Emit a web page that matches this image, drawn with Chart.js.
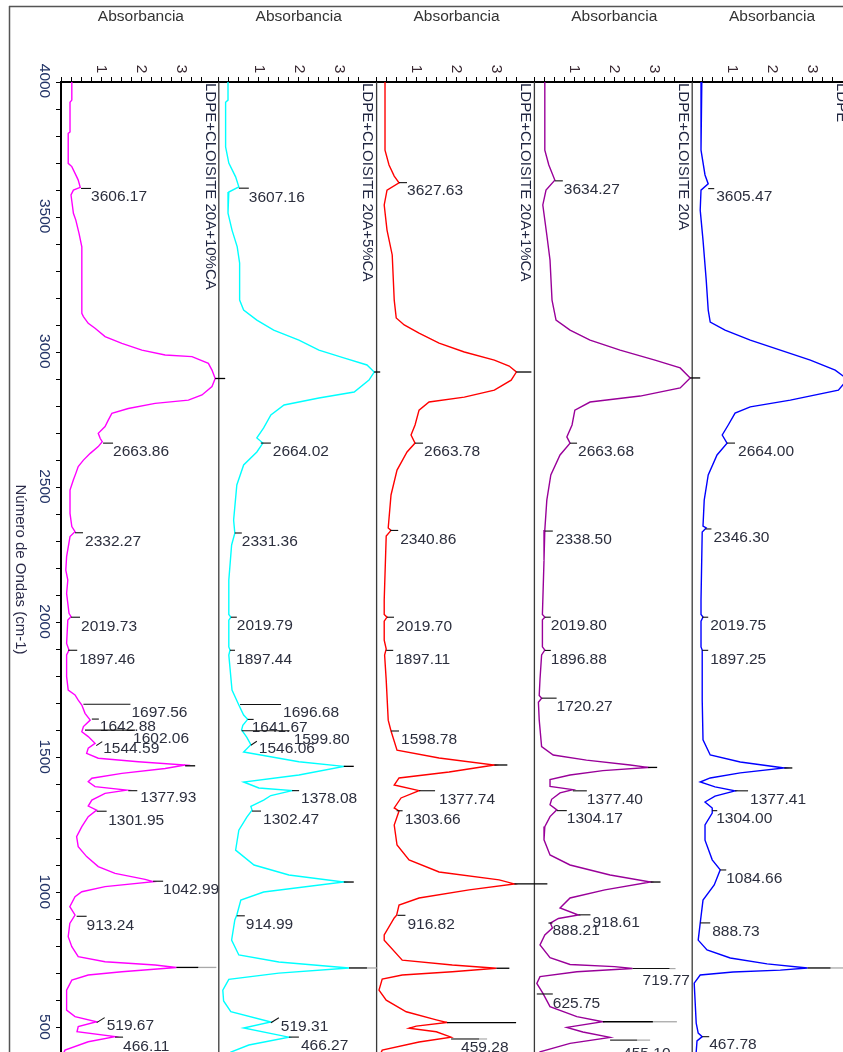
<!DOCTYPE html>
<html><head><meta charset="utf-8">
<script src="https://cdn.jsdelivr.net/npm/chart.js@4.4.0/dist/chart.umd.min.js"></script>
<style>html,body{margin:0;padding:0;overflow:hidden;background:#fff}#wrap{position:absolute;left:0;top:0;width:852px;height:1055px}</style>
</head><body><div id="wrap"><canvas id="c" width="852" height="1055"></canvas></div>
<script>
const captions = ['LDPE+CLOISITE 20A+10%CA','LDPE+CLOISITE 20A+5%CA','LDPE+CLOISITE 20A+1%CA','LDPE+CLOISITE 20A','LDPE'];
const seriesColors = ['#ff00ff','#00ffff','#ff0000','#990099','#0000ff'];
const yTitle = 'Número de Ondas (cm-1)';
const xTitle = 'Absorbancia';

const wn1 = [4000,3933,3925,3815,3810,3699,3687,3650,3637,3610,3600,3582,3514,3489,3440,3390,3144,3132,3107,3089,3058,3033,3008,2990,2984,2959,2934,2903,2873,2842,2823,2811,2792,2774,2749,2725,2700,2681,2669,2651,2626,2601,2577,2552,2528,2490,2404,2355,2336,2318,2244,2194,2157,2108,2034,2022,2009,1923,1898,1880,1800,1750,1732,1713,1695,1664,1639,1615,1596,1578,1553,1535,1516,1498,1485,1473,1460,1442,1424,1411,1393,1380,1368,1343,1321,1306,1282,1245,1208,1171,1134,1097,1072,1050,1041,1023,1004,986,949,918,887,838,801,764,745,733,724,708,696,677,640,566,542,523,505,486,468,449,418,405];
const abs1 = [0.27,0.27,0.225,0.225,0.18,0.18,0.27,0.39,0.43,0.48,0.31,0.25,0.31,0.37,0.45,0.52,0.52,0.56,0.68,0.85,1.10,1.52,2.02,2.60,3.27,3.68,3.77,3.85,3.77,3.52,3.18,2.35,1.68,1.27,1.18,1.10,0.93,0.98,1.03,0.93,0.73,0.56,0.43,0.37,0.31,0.225,0.225,0.27,0.35,0.225,0.14,0.12,0.17,0.14,0.20,0.25,0.17,0.14,0.20,0.14,0.14,0.18,0.35,0.43,0.52,0.60,0.73,0.56,0.52,0.68,0.85,0.68,0.64,0.93,1.93,3.10,2.60,1.52,0.77,0.68,0.85,1.64,1.10,0.77,0.68,0.89,0.68,0.52,0.39,0.43,0.64,0.93,1.35,2.10,2.31,1.10,0.52,0.35,0.22,0.35,0.22,0.18,0.27,0.43,1.10,2.35,2.88,1.52,0.68,0.27,0.14,0.14,0.35,0.89,0.43,0.40,1.35,0.68,0.10,0.06];

const wn2 = [4000,3933,3925,3760,3700,3649,3612,3593,3515,3452,3390,3330,3193,3156,3119,3082,3045,3008,2979,2953,2927,2897,2853,2831,2805,2768,2720,2683,2664,2631,2583,2509,2379,2331,2287,2157,2030,2020,2009,1910,1898,1880,1750,1695,1658,1642,1620,1603,1575,1548,1521,1485,1468,1436,1410,1388,1378,1360,1343,1320,1306,1280,1232,1158,1103,1066,1040,1003,973,918,900,825,770,744,722,703,680,640,600,560,522,500,466,437,411,405];
const abs2 = [0.23,0.23,0.17,0.17,0.25,0.42,0.50,0.25,0.23,0.33,0.46,0.52,0.52,0.62,0.95,1.37,2.00,2.50,3.12,3.70,3.88,3.75,3.38,2.50,1.63,1.30,1.12,0.95,1.10,0.95,0.62,0.45,0.37,0.40,0.32,0.25,0.25,0.30,0.25,0.25,0.28,0.25,0.33,0.50,0.62,0.72,0.60,0.57,0.70,0.80,0.62,2.00,3.12,2.00,0.62,1.00,1.83,1.30,1.12,0.80,0.83,0.70,0.50,0.42,0.88,1.75,3.12,1.12,0.55,0.45,0.40,0.32,0.50,1.50,3.25,1.50,0.25,0.10,0.12,0.30,1.30,0.62,1.75,0.75,0.30,0.25];

const wn3 = [4000,3748,3693,3652,3627,3600,3545,3452,3360,3193,3127,3101,3071,3034,3001,2971,2949,2927,2897,2860,2834,2816,2786,2731,2694,2664,2631,2564,2472,2350,2341,2320,2083,2030,2020,2005,1935,1902,1880,1787,1639,1599,1528,1499,1473,1447,1425,1399,1378,1351,1314,1303,1251,1177,1122,1077,1048,1033,1011,981,955,917,907,844,825,751,733,721,708,696,681,640,603,560,530,520,507,499,486,466,448,418,405];
const abs3 = [0.21,0.21,0.31,0.44,0.56,0.26,0.19,0.26,0.39,0.44,0.49,0.69,1.06,1.56,2.19,2.94,3.31,3.49,3.36,2.94,2.19,1.31,1.06,0.96,0.86,0.96,0.76,0.51,0.36,0.29,0.36,0.24,0.19,0.19,0.26,0.19,0.19,0.24,0.20,0.24,0.29,0.36,0.51,1.56,2.94,1.81,0.56,0.44,1.06,0.61,0.44,0.56,0.44,0.51,0.81,1.56,3.06,3.44,2.31,1.06,0.56,0.50,0.44,0.19,0.19,0.64,1.89,2.99,1.89,0.64,0.14,0.06,0.24,0.74,1.49,1.76,0.99,0.81,1.49,1.86,1.06,0.14,0.10];

const wn4 = [4000,3748,3693,3637,3600,3545,3434,3341,3193,3119,3082,3045,3008,2971,2942,2905,2868,2838,2816,2786,2731,2687,2664,2620,2546,2453,2342,2231,2030,2020,2010,1910,1898,1880,1790,1730,1720,1705,1640,1541,1510,1491,1473,1464,1452,1436,1419,1394,1382,1370,1346,1326,1307,1282,1245,1196,1140,1103,1066,1040,1011,981,944,918,905,888,870,844,807,760,735,727,720,708,690,665,629,579,542,523,502,485,465,443,412,405];
const abs4 = [0.26,0.26,0.36,0.51,0.29,0.21,0.31,0.39,0.44,0.54,0.89,1.39,2.14,3.01,3.64,3.89,3.64,2.64,1.39,1.01,0.94,0.81,0.89,0.64,0.41,0.31,0.26,0.24,0.20,0.26,0.20,0.20,0.26,0.18,0.14,0.12,0.18,0.10,0.12,0.18,0.47,1.30,2.39,2.84,1.71,0.89,0.39,0.39,0.96,0.64,0.43,0.39,0.56,0.39,0.26,0.24,0.39,0.89,1.89,2.90,1.76,0.89,0.64,1.10,0.60,0.40,0.45,0.26,0.14,0.39,0.89,2.00,2.45,1.06,0.14,0.06,0.21,0.39,1.06,1.71,0.81,1.21,1.89,0.89,0.14,0.10];

const wn5 = [4000,3748,3656,3623,3600,3526,3415,3267,3156,3112,3082,3045,3008,2971,2934,2900,2860,2823,2798,2775,2731,2694,2664,2620,2546,2453,2357,2350,2335,2083,2030,2020,2005,1910,1898,1713,1566,1510,1484,1462,1444,1425,1410,1392,1377,1358,1336,1314,1295,1251,1195,1122,1085,1029,973,888,825,789,759,737,722,714,707,696,666,518,481,468,452,411,405];
const abs5 = [0.24,0.22,0.32,0.40,0.22,0.20,0.27,0.35,0.40,0.45,0.82,1.45,2.20,2.95,3.57,3.88,3.65,2.45,1.45,1.07,0.90,0.75,0.87,0.62,0.40,0.30,0.27,0.35,0.25,0.22,0.22,0.27,0.22,0.22,0.25,0.25,0.27,0.45,1.20,2.30,1.20,0.45,0.20,0.57,1.07,0.57,0.32,0.50,0.50,0.32,0.32,0.50,0.70,0.55,0.27,0.20,0.15,0.37,0.95,1.87,2.88,2.20,1.02,0.20,0.05,0.10,0.15,0.25,0.12,0.10,0.10];

// labelled peaks: wavenumber, absorbance at the label anchor
const peakWn1 = [3606.17,2663.86,2332.27,2019.73,1897.46,1697.56,1642.88,1602.06,1544.59,1377.93,1301.95,1042.99,913.24,519.67,466.11];
const peakAbs1 = [0.50,1.05,0.35,0.25,0.18,0.56,0.77,0.60,0.88,1.68,0.89,2.30,0.39,0.89,1.35];
const peakWn2 = [3607.16,2664.02,2331.36,2019.79,1897.44,1696.68,1641.67,1599.80,1546.06,1378.08,1302.47,914.99,519.31,466.27];
const peakAbs2 = [0.50,1.05,0.40,0.30,0.28,0.53,0.72,0.57,0.80,1.83,0.83,0.45,1.30,1.75];
const peakWn3 = [3627.63,2663.78,2340.86,2019.70,1897.11,1598.78,1377.74,1303.66,916.82,459.28];
const peakAbs3 = [0.56,0.96,0.34,0.26,0.24,0.36,1.06,0.50,0.52,1.86];
const peakWn4 = [3634.27,2663.68,2338.50,2019.80,1896.88,1720.27,1377.40,1304.17,918.61,888.21,719.77,625.75,455.10];
const peakAbs4 = [0.51,0.89,0.26,0.26,0.26,0.18,0.96,0.56,1.10,0.35,2.45,0.06,1.89];
const peakWn5 = [3605.47,2664.00,2346.30,2019.75,1897.25,1377.41,1304.00,1084.66,888.73,467.78];
const peakAbs5 = [0.40,0.87,0.33,0.25,0.25,1.07,0.50,0.70,0.20,0.25];
// unlabelled peak markers
const markWn1 = [2903,1470,724];      const markAbs1 = [3.85,3.10,2.88];
const markWn2 = [2927,1468,1040,722]; const markAbs2 = [3.88,3.12,3.12,3.25];
const markWn3 = [2927,1473,1033,721,520]; const markAbs3 = [3.49,2.94,3.44,2.99,1.76];
const markWn4 = [2905,1464,1040,523]; const markAbs4 = [3.89,2.84,2.90,1.71];
const markWn5 = [2900,1462,722];      const markAbs5 = [3.88,2.30,2.88];

// layout (style) of annotations: [lineDx, lineDy, textDx, textDy, grayExtra]
const peakLayout = [
 [[10,0,0,8.5],[10,0,0,8.5],[8,0,2,8.5],[9,0,1,9],[9,0,2,9],[47,0,1,8.5],[7,0,1,7.5],[50,0,-2,9],[6,-4,1,3.5],[9,0,3,7.5],[10,0,1.5,9],[10,0,0,9],[10,0,0,9.5],[8,-5,2,3.5],[8,0,0,10]],
 [[10,0,0,10],[10,0,2,8.5],[7,0,0,9],[6,0,0,9],[5,0,1,9],[41,0,2,8],[6,0,-2,8],[48,0,4,9],[6,-4,2,3.5],[7,0,2,8.5],[9,0,2,9],[8,0,1,9],[8,-5,2,3.5],[10,0,2,9]],
 [[8,0,0,8.5],[8,0,1,8.5],[8,0,2,9],[7,0,2,9],[7,0,2,9],[8,0,2,8.5],[16,0,4,8.5],[6,0,2,9],[8,0,2,9],[28,0,-18,9,8]],
 [[8,0,1,8.5],[7,0,1,8.5],[8,0,3,9],[6,0,0,9],[6,0,0,9],[15,0,0,9],[14,0,0,8.5],[10,0,0,8.5],[12,0,2,8],[4,0,0,8],[37,0,-27,12,6],[16,0,0,10],[27,0,-14,14,13]],
 [[6,0,2,8.5],[8,0,3,8.5],[6,0,2,8.5],[6,0,2,9],[6,0,2,9],[13,0,2,8.5],[5,0,-1,8.5],[6,0,0,9],[10,0,2,8.5],[7,0,0,8.5]]
];
const markLayout = [
 [[10,0],[10,0],[22,18]],
 [[6,0],[10,0],[10,0],[18,10]],
 [[15,0],[13,0],[33,0],[13,0],[69,0]],
 [[10,0],[9,0],[10,0],[50,24]],
 [[10,0],[8,0],[23,17]]
];

const panels = [
 {wn: wn1, ab: abs1, pw: peakWn1, pa: peakAbs1, mw: markWn1, ma: markAbs1},
 {wn: wn2, ab: abs2, pw: peakWn2, pa: peakAbs2, mw: markWn2, ma: markAbs2},
 {wn: wn3, ab: abs3, pw: peakWn3, pa: peakAbs3, mw: markWn3, ma: markAbs3},
 {wn: wn4, ab: abs4, pw: peakWn4, pa: peakAbs4, mw: markWn4, ma: markAbs4},
 {wn: wn5, ab: abs5, pw: peakWn5, pa: peakAbs5, mw: markWn5, ma: markAbs5}
];

const FONT = '"Liberation Sans", Arial, sans-serif';
function rotText(ctx, t, x, y, align, size, color) {
  ctx.save();
  ctx.translate(x, y);
  ctx.rotate(Math.PI / 2);
  ctx.font = size + 'px ' + FONT;
  ctx.fillStyle = color;
  ctx.textAlign = align;
  ctx.textBaseline = 'middle';
  ctx.fillText(t, 0, 0);
  ctx.restore();
}
function line(ctx, x0, y0, x1, y1, color, w) {
  ctx.beginPath(); ctx.moveTo(x0, y0); ctx.lineTo(x1, y1);
  ctx.strokeStyle = color; ctx.lineWidth = w; ctx.stroke();
}

const decor = {
  id: 'decor',
  beforeDatasetsDraw(chart) {
    const ctx = chart.ctx, ys = chart.scales.y;
    ctx.save();
    for (let i = 0; i < panels.length; i++) {
      const xs = chart.scales['x' + i];
      line(ctx, xs.right, ys.top, xs.right, ys.bottom, '#3a3a3a', 1.3);
    }
    ctx.restore();
  },
  afterDatasetsDraw(chart) {
    const ctx = chart.ctx, ys = chart.scales.y;
    ctx.save();
    panels.forEach((p, i) => {
      const xs = chart.scales['x' + i];
      p.mw.forEach((w, j) => {
        const [len, gray] = markLayout[i][j];
        const x0 = xs.getPixelForValue(p.ma[j]), y0 = ys.getPixelForValue(w);
        if (gray) line(ctx, x0 + len, y0, x0 + len + gray, y0, '#a8a8a8', 1.3);
        line(ctx, x0, y0, x0 + len, y0, '#000', 1.3);
      });
      p.pw.forEach((w, j) => {
        const [ldx, ldy, tdx, tdy, gray] = peakLayout[i][j];
        const x0 = xs.getPixelForValue(p.pa[j]), y0 = ys.getPixelForValue(w);
        const x1 = x0 + ldx, y1 = y0 + ldy;
        if (gray) line(ctx, x1, y1, x1 + gray, y1, '#a8a8a8', 1.2);
        line(ctx, x0, y0, x1, y1, '#111', 1.1);
        ctx.font = '15.5px ' + FONT;
        ctx.fillStyle = '#2c2f3e';
        ctx.textAlign = 'left';
        ctx.textBaseline = 'middle';
        ctx.fillText(w.toFixed(2), x1 + tdx, y0 + tdy);
      });
    });
    ctx.restore();
  },
  afterDraw(chart) {
    const ctx = chart.ctx, ys = chart.scales.y;
    ctx.save();
    line(ctx, 9, 6.5, chart.width, 6.5, '#555', 1.5);
    line(ctx, 9.5, 6, 9.5, chart.height, '#555', 1.5);
    ys.ticks.forEach(t => {
      if (t.value % 500 === 0) rotText(ctx, String(t.value), 44, ys.getPixelForValue(t.value) - 1, 'center', 15.5, '#223366');
    });
    rotText(ctx, yTitle, 20, (ys.top + ys.bottom) / 2 + 1, 'center', 15, '#2a2a48');
    panels.forEach((p, i) => {
      const xs = chart.scales['x' + i];
      xs.ticks.forEach(t => {
        if (t.value > 0 && Math.abs(t.value - Math.round(t.value)) < 1e-6) rotText(ctx, String(Math.round(t.value)), xs.getPixelForValue(t.value), 69, 'center', 15.5, '#3a2a33');
      });
      ctx.font = '15.5px ' + FONT;
      ctx.fillStyle = '#333';
      ctx.textAlign = 'center';
      ctx.textBaseline = 'middle';
      ctx.fillText(xTitle, (xs.left + xs.right) / 2 + 1, 17);
      rotText(ctx, captions[i], xs.right - 9, ys.top + 1, 'left', 15, '#1f2540');
    });
    ctx.restore();
  }
};

// top axes are laid out right-to-left in insertion order, so insert them reversed
const scales = {};
for (let i = panels.length - 1; i >= 0; i--) {
  scales['x' + i] = {
    type: 'linear', position: 'top', stack: 'panels', stackWeight: 1,
    min: 0, max: 3.94,
    ticks: { stepSize: 0.25, display: false },
    grid: { drawOnChartArea: false, drawTicks: true, tickLength: 5, color: '#000', lineWidth: 1 },
    border: { display: true, color: '#000', width: 2 },
    afterFit: s => { s.height = 75; }
  };
}
scales.y = {
  type: 'linear', position: 'left', min: 400, max: 4000,
  ticks: { stepSize: 100, display: false },
  grid: { drawOnChartArea: false, drawTicks: true, tickLength: 5, color: '#000', lineWidth: 1 },
  border: { display: true, color: '#000', width: 2 },
  afterFit: s => { s.width = 52; }
};

const datasets = panels.map((p, i) => ({
  label: captions[i],
  data: p.wn.slice(0, Math.min(p.wn.length, p.ab.length)).map((w, k) => ({ x: p.ab[k], y: w })),
  xAxisID: 'x' + i, yAxisID: 'y',
  borderColor: seriesColors[i], backgroundColor: seriesColors[i],
  borderWidth: 1.4, pointRadius: 0, fill: false, tension: 0
}));

new Chart(document.getElementById('c').getContext('2d'), {
  type: 'line',
  data: { datasets },
  options: {
    responsive: false, animation: false, devicePixelRatio: 1,
    layout: { padding: { left: 9, top: 7, right: 2, bottom: 0 } },
    plugins: { legend: { display: false }, tooltip: { enabled: false } },
    scales
  },
  plugins: [decor]
});
</script></body></html>
